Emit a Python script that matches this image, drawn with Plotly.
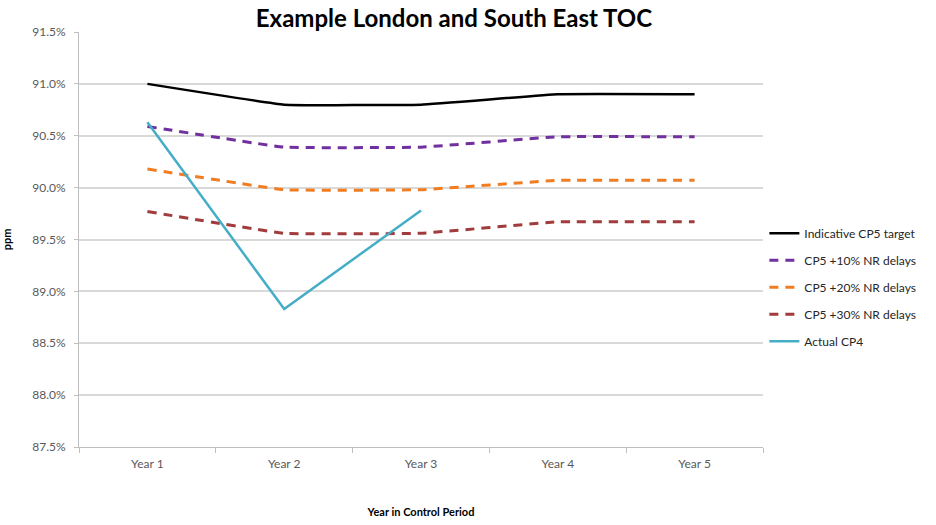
import plotly.graph_objects as go

years = ["Year 1", "Year 2", "Year 3", "Year 4", "Year 5"]
target = [91.0, 90.8, 90.8, 90.9, 90.9]
nr10 = [90.59, 90.39, 90.39, 90.49, 90.49]
nr20 = [90.18, 89.98, 89.98, 90.07, 90.07]
nr30 = [89.77, 89.56, 89.56, 89.67, 89.67]
actual = [90.63, 88.83, 89.78]
y_ticks = [87.5, 88.0, 88.5, 89.0, 89.5, 90.0, 90.5, 91.0, 91.5]

FONT = "Lato"
fig = go.Figure()

def add(name, x, y, color, dash, width, spline, group):
    fig.add_trace(go.Scatter(
        x=x, y=y, name=name, mode="lines", legendgroup=group,
        line=dict(color=color, dash=dash, width=width,
                  shape="spline" if spline else "linear", smoothing=0.25),
    ))

add("Indicative CP5 target", years, target, "#000000", "solid", 2.5, True, "a")
add("CP5 +10% NR delays", years, nr10, "#7030A0", "9px,7px", 3, True, "b")
add("CP5 +20% NR delays", years, nr20, "#F07D22", "9px,7px", 3, True, "c")
add("CP5 +30% NR delays", years, nr30, "#A23B3B", "9px,7px", 3, True, "d")
add("Actual CP4", years[:3], actual, "#45ADC8", "solid", 2.5, False, "e")

fig.update_layout(
    width=936, height=525,
    margin=dict(l=79, r=173, t=32, b=78, autoexpand=False),
    paper_bgcolor="white", plot_bgcolor="white",
    font=dict(family=FONT, color="#404040", size=12),
    title=dict(text="<b>Example London and South East TOC</b>", x=0.485, xanchor="center",
               y=0.965, yanchor="middle", font=dict(family=FONT, size=24, color="#000000")),
    legend=dict(x=1.002, xanchor="left", y=0.55, yanchor="top", traceorder="grouped",
                tracegroupgap=8, font=dict(family=FONT, size=12, color="#262626"),
                bgcolor="rgba(0,0,0,0)"),
    xaxis=dict(
        title=dict(text="<b>Year in Control Period</b>", font=dict(family=FONT, size=11, color="#000000"),
                   standoff=37),
        automargin=False,
        showline=True, linecolor="#BFBFBF", linewidth=1,
        ticks="outside", tickson="boundaries", ticklen=5, tickcolor="#BFBFBF",
        ticklabelstandoff=6,
        tickfont=dict(family=FONT, size=12, color="#595959"),
        showgrid=False, range=[-0.5, 4.5], fixedrange=True,
    ),
    yaxis=dict(
        title=dict(text="<b>ppm</b>", font=dict(family=FONT, size=11, color="#000000"), standoff=20),
        automargin=False,
        range=[87.5, 91.5], tickvals=y_ticks,
        ticktext=[f"{v:.1f}%" for v in y_ticks],
        showgrid=True, gridcolor="#D9D9D9", gridwidth=1.5,
        showline=True, linecolor="#BFBFBF", linewidth=1,
        ticks="outside", ticklen=4, tickcolor="#BFBFBF",
        ticklabelstandoff=6,
        tickfont=dict(family=FONT, size=12, color="#595959"),
        zeroline=False, fixedrange=True,
    ),
)

fig.write_html("out.html")
